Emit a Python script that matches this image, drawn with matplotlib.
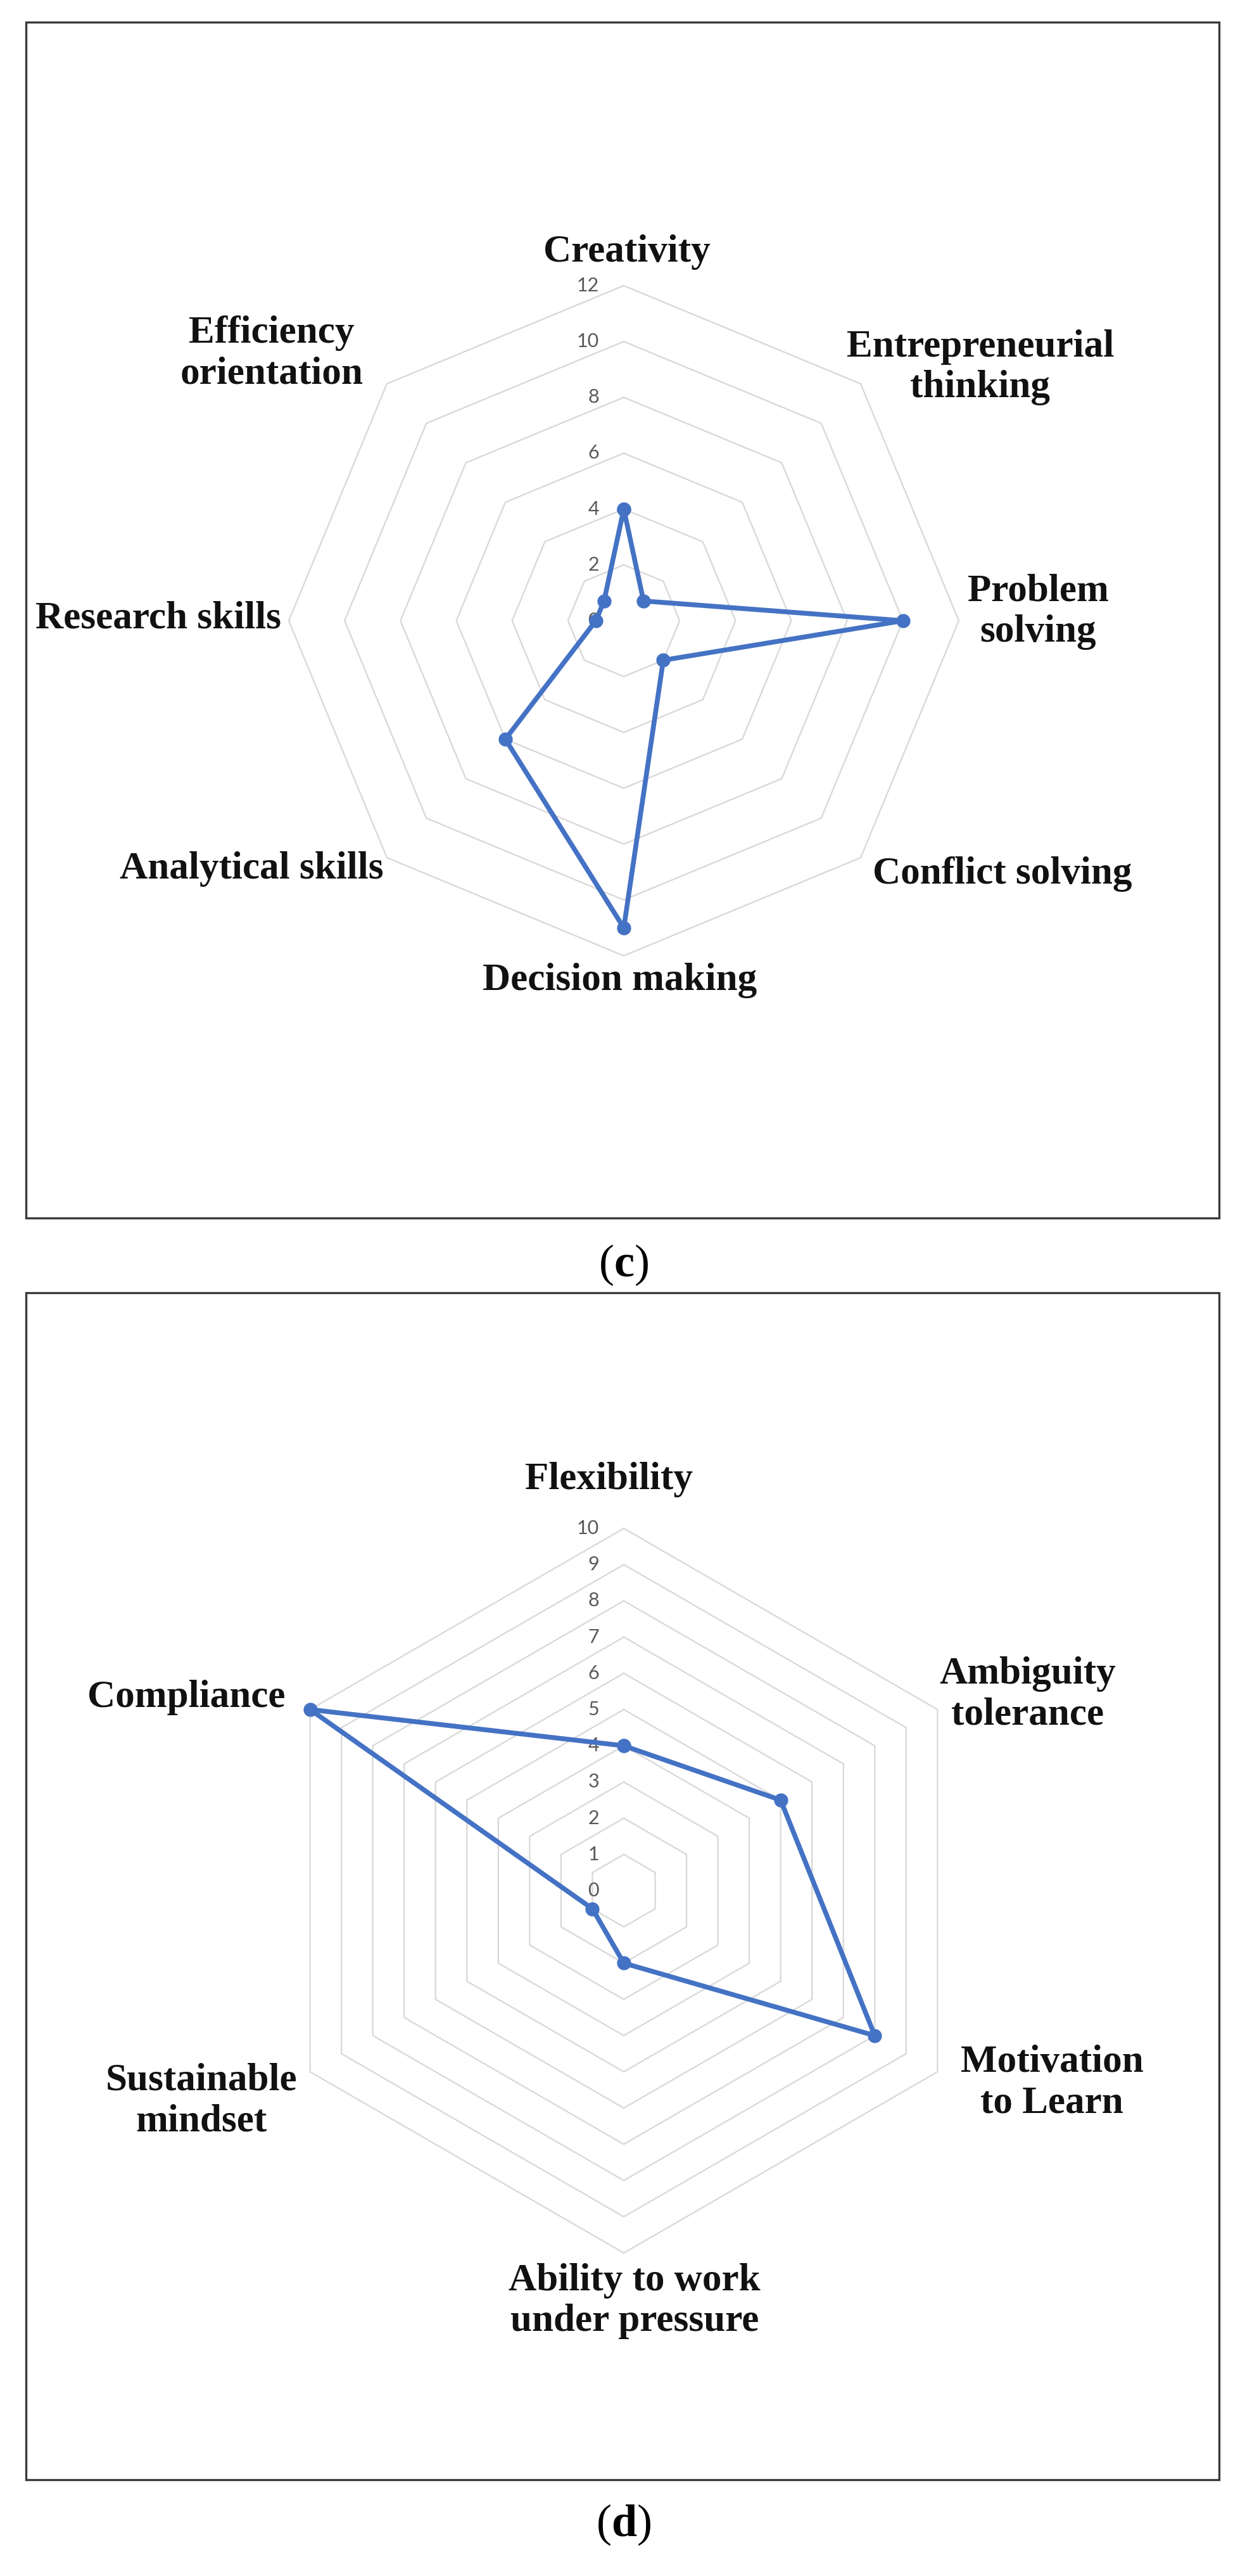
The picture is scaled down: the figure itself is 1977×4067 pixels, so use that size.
import numpy as np
import matplotlib
matplotlib.use("Agg")
import matplotlib.pyplot as plt
import matplotlib.transforms as mtransforms
from matplotlib.patches import Rectangle

# ---------------- data ----------------
c_categories = ["Creativity", "Entrepreneurial\nthinking", "Problem\nsolving",
                "Conflict solving", "Decision making", "Analytical skills",
                "Research skills", "Efficiency\norientation"]
c_values = [4, 1, 10, 2, 11, 6, 1, 1]
c_ticks = [0, 2, 4, 6, 8, 10, 12]

d_categories = ["Flexibility", "Ambiguity\ntolerance", "Motivation\nto Learn",
                "Ability to work\nunder pressure", "Sustainable\nmindset", "Compliance"]
d_values = [4, 5, 8, 2, 1, 10]
d_ticks = [0, 1, 2, 3, 4, 5, 6, 7, 8, 9, 10]

# ---------------- layout ----------------
W, H, DPI = 1977, 4067, 100
plt.rcParams["mathtext.fontset"] = "custom"
plt.rcParams["mathtext.rm"] = "Liberation Serif"
plt.rcParams["mathtext.bf"] = "Liberation Serif:bold"

fig = plt.figure(figsize=(W / DPI, H / DPI), dpi=DPI)
fig.patch.set_facecolor("white")


def fx(px):
    return px / W


def fy(py):
    return 1 - py / H


LINE_BLUE = "#4472C4"
GRID = "#d9d9d9"
TICK_COL = "#595959"
LABEL_FONT = dict(fontsize=44, fontweight="bold", family="Liberation Serif",
                  ha="center", va="center", multialignment="center", color="#111111")

# panel frames
for (x0, y0, x1, y1) in [(41, 35, 1925, 1923), (41, 2041, 1925, 3915)]:
    fig.add_artist(Rectangle((fx(x0), fy(y1)), fx(x1) - fx(x0), fy(y0) - fy(y1),
                             transform=fig.transFigure, fill=False,
                             edgecolor="#3a3a3a", linewidth=2.4))


def radar(cx, cy, R, categories, values, ticks, label_pos):
    ax = fig.add_axes([fx(cx - R), fy(cy + R), 2 * R / W, 2 * R / H],
                      projection="polar")
    ax.set_theta_zero_location("N")
    ax.set_theta_direction(-1)
    ax.set_ylim(0, ticks[-1])
    ax.set_axis_off()
    n = len(categories)
    theta = np.linspace(0, 2 * np.pi, n, endpoint=False)
    theta_c = np.append(theta, theta[0])
    for v in ticks[1:]:
        ax.plot(theta_c, [v] * (n + 1), color=GRID, lw=1.7, zorder=1,
                clip_on=False)
    vals = list(values) + [values[0]]
    ax.plot(theta_c, vals, color=LINE_BLUE, lw=5.5, marker="o", ms=15,
            zorder=3, clip_on=False)
    trans = mtransforms.offset_copy(ax.transData, fig=fig, x=-39, y=0, units="dots")
    for v in ticks:
        ax.text(0, v, str(v), transform=trans, ha="right", va="center",
                fontsize=22, family="Lato", color=TICK_COL, zorder=2)
    for lab, (px, py) in zip(categories, label_pos):
        fig.text(fx(px), fy(py), lab, **LABEL_FONT)
    return ax


c_label_pos = [(990, 398), (1548, 580), (1639, 966), (1583, 1380),
               (979, 1548), (397, 1372), (250, 976), (429, 558)]
radar(985, 980, 529, c_categories, c_values, c_ticks, c_label_pos)

d_label_pos = [(962, 2336), (1623, 2675), (1661, 3288), (1002, 3633),
               (318, 3317), (294, 2680)]
radar(985, 2985, 572, d_categories, d_values, d_ticks, d_label_pos)

fig.text(fx(985), fy(1997), r"$\mathrm{(}\mathbf{c}\mathrm{)}$", fontsize=52,
         ha="center", va="center")
fig.text(fx(985), fy(3986), r"$\mathrm{(}\mathbf{d}\mathrm{)}$", fontsize=52,
         ha="center", va="center")

fig.savefig("out.png", dpi=DPI, facecolor="white")
